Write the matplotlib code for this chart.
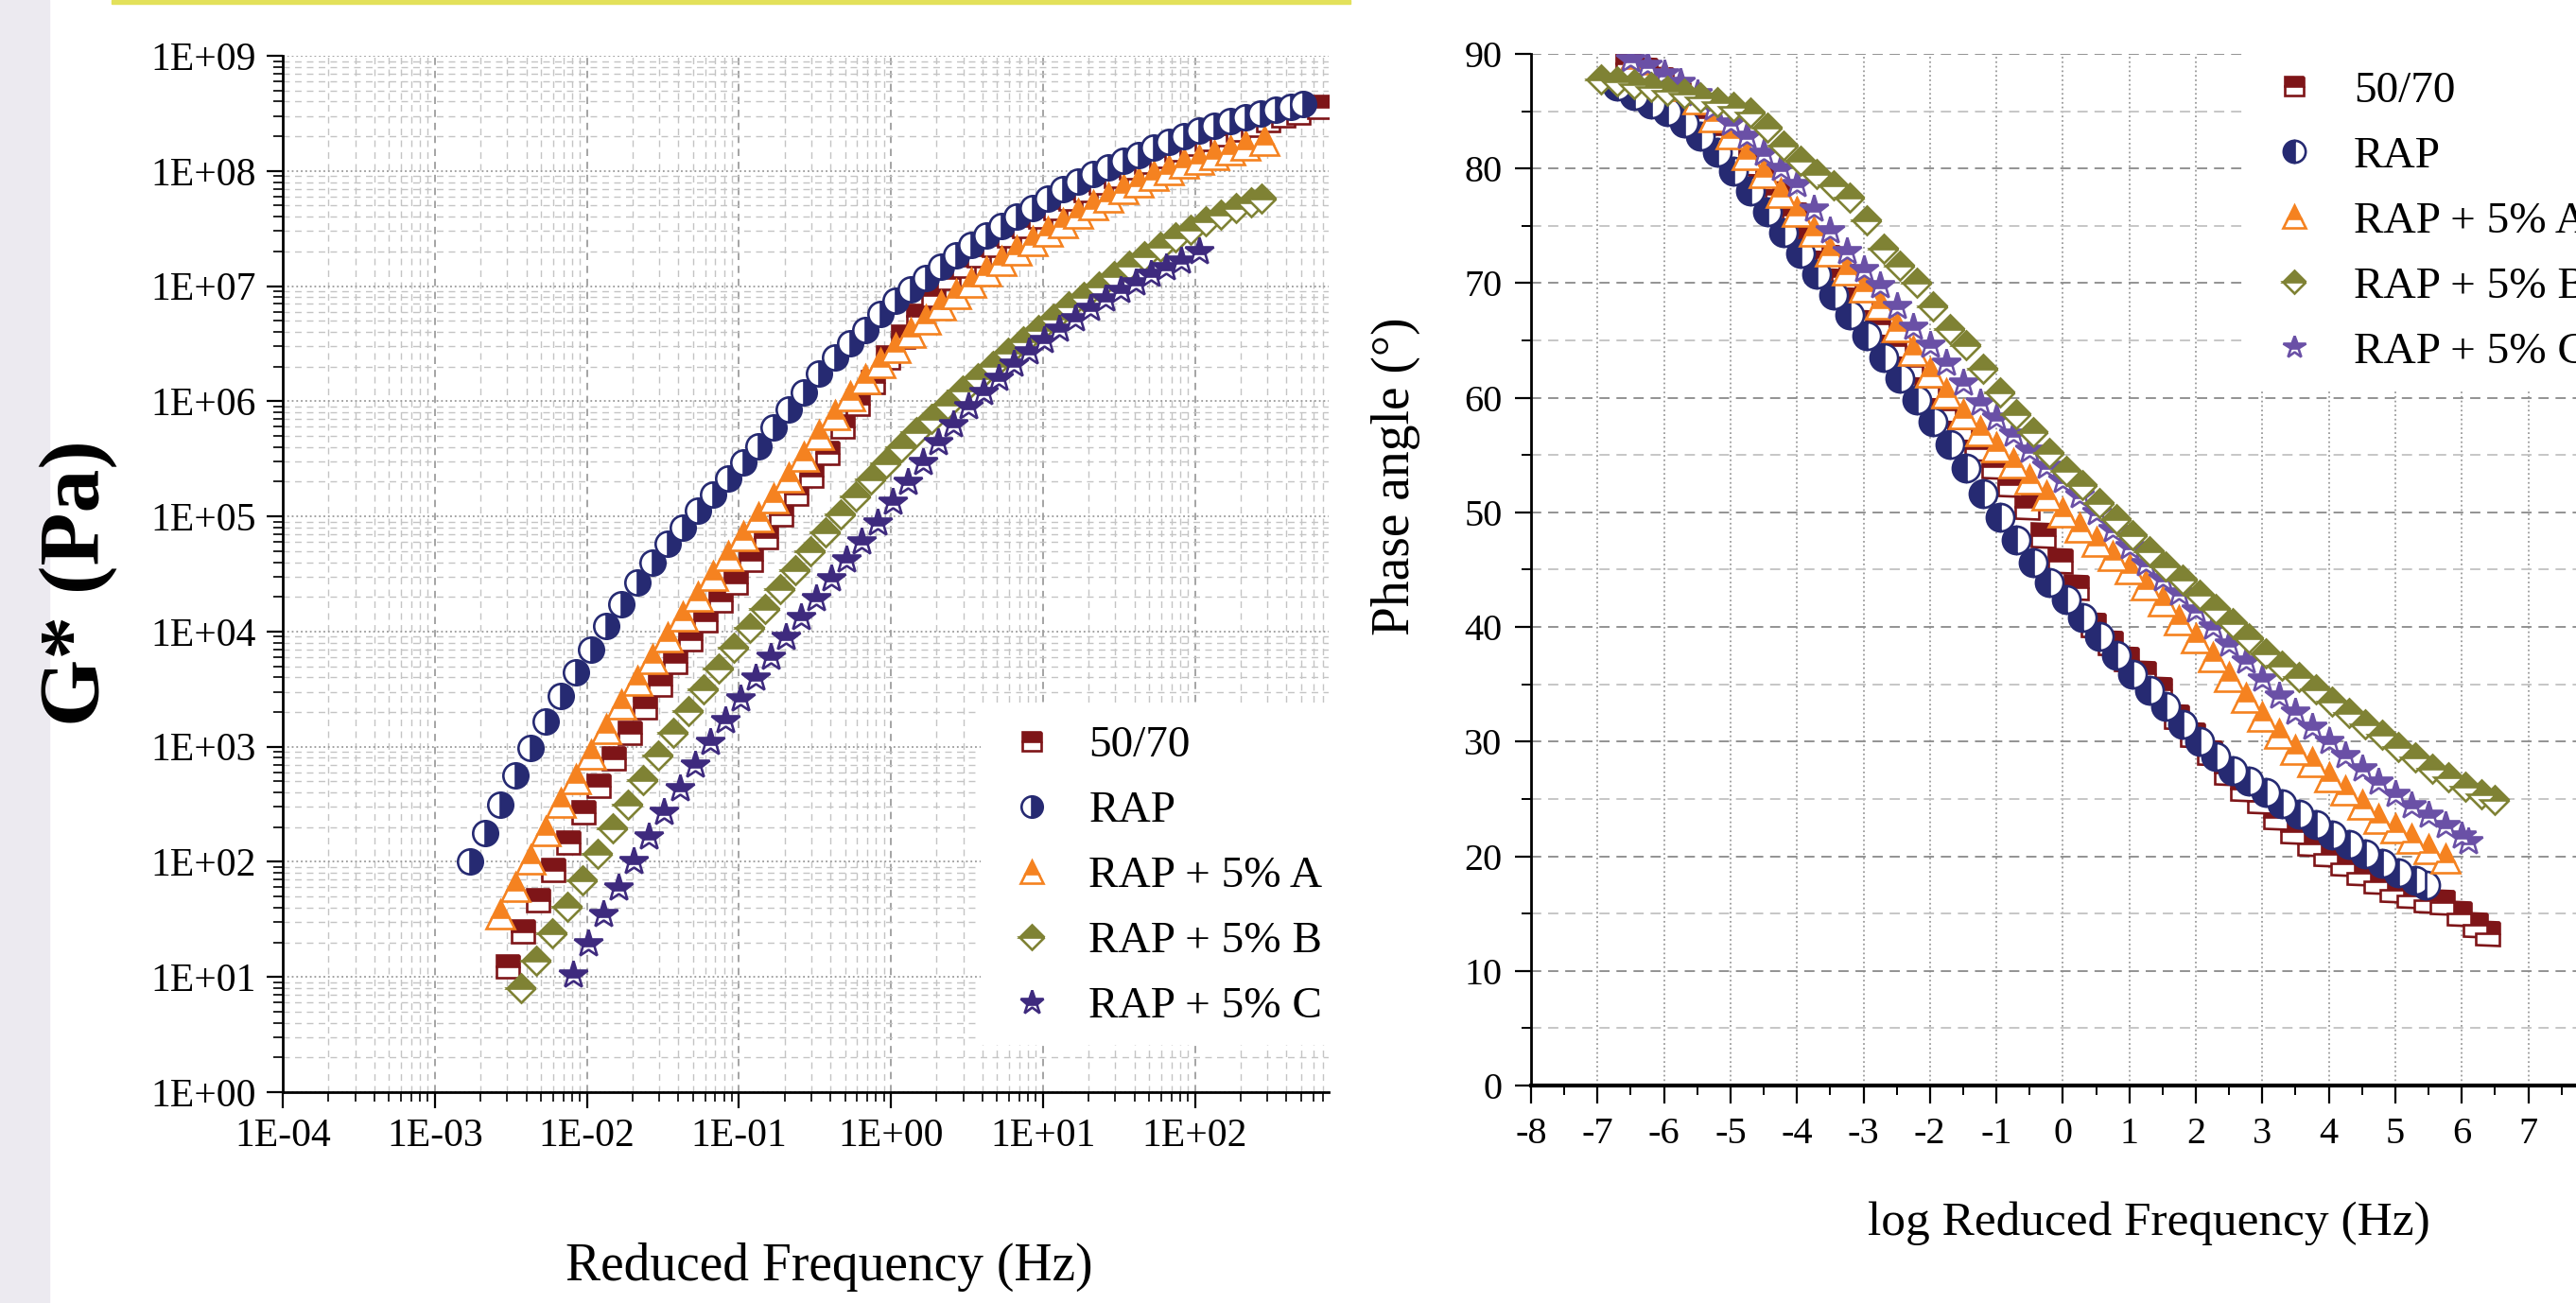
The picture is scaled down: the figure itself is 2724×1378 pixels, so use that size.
import numpy as np
import matplotlib
matplotlib.use('Agg')
import matplotlib.pyplot as plt
from matplotlib.patches import Rectangle
from matplotlib.ticker import LogLocator, FuncFormatter, NullFormatter, MultipleLocator, FixedLocator

plt.rcParams['font.family'] = ['Liberation Serif', 'DejaVu Serif']
plt.rcParams['axes.unicode_minus'] = False

# ---------------- data: left panel (log10 of reduced frequency, log10 of G*) ----------------
g5070_logf = [-2.52,-2.42,-2.32,-2.22,-2.12,-2.02,-1.92,-1.82,-1.72,-1.62,-1.52,-1.42,-1.32,-1.22,-1.12,-1.02,
              -0.92,-0.82,-0.72,-0.62,-0.52,-0.42,-0.32,-0.22,-0.12,-0.02,0.08,0.18,0.28,0.38,0.48,0.58,0.68,
              0.78,0.88,0.98,1.08,1.18,1.28,1.38,1.48,1.58,1.68,1.78,1.88,1.98,2.08,2.18,2.28,2.38,2.48,2.58,2.68,2.82]
g5070_logG = [1.09,1.40,1.67,1.93,2.17,2.43,2.66,2.90,3.12,3.34,3.54,3.74,3.93,4.10,4.27,4.43,4.62,4.82,5.02,5.20,
              5.35,5.55,5.78,5.98,6.17,6.38,6.56,6.74,6.92,7.07,7.18,7.27,7.36,7.44,7.52,7.60,7.68,7.76,7.83,7.90,
              7.96,8.03,8.08,8.13,8.19,8.24,8.28,8.32,8.36,8.40,8.44,8.48,8.51,8.56]

grap_logf = [-2.77,-2.67,-2.57,-2.47,-2.37,-2.27,-2.17,-2.07,-1.97,-1.87,-1.77,-1.67,-1.57,-1.47,-1.37,-1.27,-1.17,
             -1.07,-0.97,-0.87,-0.77,-0.67,-0.57,-0.47,-0.37,-0.27,-0.17,-0.07,0.03,0.13,0.23,0.33,0.43,0.53,0.63,
             0.73,0.83,0.93,1.03,1.13,1.23,1.33,1.43,1.53,1.63,1.73,1.83,1.93,2.03,2.13,2.23,2.33,2.43,2.53,2.63,2.71]
grap_logG = [2.00,2.25,2.50,2.75,2.99,3.22,3.44,3.65,3.84,4.05,4.24,4.43,4.60,4.76,4.90,5.05,5.19,5.33,5.47,5.61,
             5.77,5.93,6.08,6.24,6.38,6.50,6.62,6.76,6.87,6.97,7.07,7.17,7.27,7.36,7.44,7.52,7.60,7.68,7.76,7.84,
             7.91,7.97,8.03,8.09,8.14,8.20,8.25,8.30,8.35,8.39,8.43,8.47,8.50,8.53,8.56,8.58]

gA_logf = [-2.57,-2.47,-2.37,-2.27,-2.17,-2.07,-1.97,-1.87,-1.77,-1.67,-1.57,-1.47,-1.37,-1.27,-1.17,-1.07,-0.97,
           -0.87,-0.77,-0.67,-0.57,-0.47,-0.37,-0.27,-0.17,-0.07,0.03,0.13,0.23,0.33,0.43,0.53,0.63,0.73,0.83,0.93,
           1.03,1.13,1.23,1.33,1.43,1.53,1.63,1.73,1.83,1.93,2.03,2.13,2.23,2.33,2.46]
gA_logG = [1.54,1.78,2.02,2.27,2.51,2.72,2.93,3.15,3.37,3.57,3.76,3.95,4.13,4.30,4.48,4.66,4.83,4.99,5.16,5.34,
           5.52,5.71,5.88,6.04,6.19,6.33,6.46,6.59,6.71,6.83,6.93,7.03,7.13,7.22,7.31,7.39,7.47,7.55,7.63,7.70,
           7.77,7.84,7.90,7.96,8.01,8.06,8.10,8.14,8.18,8.22,8.26]

gB_logf = [-2.43,-2.33,-2.23,-2.13,-2.03,-1.93,-1.83,-1.73,-1.63,-1.53,-1.43,-1.33,-1.23,-1.13,-1.03,-0.93,-0.83,
           -0.73,-0.63,-0.53,-0.43,-0.33,-0.23,-0.13,-0.03,0.07,0.17,0.27,0.37,0.47,0.57,0.67,0.77,0.87,0.97,1.07,
           1.17,1.27,1.37,1.47,1.57,1.67,1.77,1.87,1.97,2.07,2.17,2.27,2.37,2.44]
gB_logG = [0.90,1.14,1.38,1.61,1.84,2.07,2.29,2.50,2.71,2.92,3.12,3.31,3.50,3.68,3.86,4.03,4.20,4.37,4.53,4.70,
           4.86,5.02,5.17,5.32,5.46,5.60,5.73,5.85,5.97,6.09,6.20,6.31,6.42,6.52,6.62,6.72,6.82,6.91,7.00,7.09,
           7.18,7.26,7.34,7.42,7.49,7.56,7.62,7.68,7.73,7.76]

gC_logf = [-2.09,-1.99,-1.89,-1.79,-1.69,-1.59,-1.49,-1.39,-1.29,-1.19,-1.09,-0.99,-0.89,-0.79,-0.69,-0.59,-0.49,
           -0.39,-0.29,-0.19,-0.09,0.01,0.11,0.21,0.31,0.41,0.51,0.61,0.71,0.81,0.91,1.01,1.11,1.21,1.31,1.41,1.51,
           1.61,1.71,1.81,1.91,2.03]
gC_logG = [1.02,1.29,1.54,1.77,2.00,2.22,2.43,2.64,2.84,3.04,3.23,3.42,3.60,3.78,3.95,4.12,4.29,4.46,4.62,4.78,
           4.94,5.12,5.30,5.47,5.64,5.80,5.95,6.08,6.20,6.32,6.43,6.53,6.63,6.72,6.81,6.89,6.96,7.03,7.10,7.16,
           7.22,7.30]

# ---------------- data: right panel (log reduced frequency, phase angle) ----------------
p5070_x = [-6.55,-6.3,-6.05,-5.8,-5.55,-5.3,-5.05,-4.8,-4.55,-4.3,-4.05,-3.8,-3.55,-3.3,-3.05,-2.8,-2.55,-2.3,-2.05,
           -1.8,-1.55,-1.3,-1.05,-0.8,-0.55,-0.3,-0.05,0.2,0.45,0.7,0.95,1.2,1.45,1.7,1.95,2.2,2.45,2.7,2.95,3.2,
           3.45,3.7,3.95,4.2,4.45,4.7,4.95,5.2,5.45,5.7,5.95,6.2,6.38]
p5070_y = [89.2,88.6,87.8,86.5,84.5,83.0,81.8,80.5,79.2,77.8,76.0,73.8,72.3,70.6,68.6,66.5,64.6,62.8,61.0,59.0,
           57.3,55.6,54.0,52.5,50.5,48.0,45.8,43.5,40.2,38.6,37.2,36.0,34.6,32.2,30.6,29.0,27.3,25.9,24.8,23.4,
           22.2,21.1,20.2,19.4,18.6,17.8,17.1,16.6,16.2,16.0,15.0,14.0,13.3]

prap_x = [-6.7,-6.45,-6.2,-5.95,-5.7,-5.45,-5.2,-4.95,-4.7,-4.45,-4.2,-3.95,-3.7,-3.45,-3.2,-2.95,-2.7,-2.45,-2.2,
          -1.95,-1.7,-1.45,-1.2,-0.95,-0.7,-0.45,-0.2,0.05,0.3,0.55,0.8,1.05,1.3,1.55,1.8,2.05,2.3,2.55,2.8,3.05,
          3.3,3.55,3.8,4.05,4.3,4.55,4.8,5.05,5.3,5.45]
prap_y = [87.2,86.4,85.6,85.0,84.0,82.8,81.4,79.8,78.0,76.2,74.4,72.6,70.8,69.0,67.2,65.4,63.5,61.7,59.8,57.9,
          55.9,53.9,51.6,49.6,47.6,45.6,43.9,42.4,40.8,39.2,37.5,35.9,34.5,33.1,31.5,30.0,28.7,27.5,26.6,25.6,
          24.6,23.7,22.8,21.9,21.0,20.2,19.4,18.6,17.9,17.5]

pA_x = [-6.5,-6.25,-6.0,-5.75,-5.5,-5.25,-5.0,-4.75,-4.5,-4.25,-4.0,-3.75,-3.5,-3.25,-3.0,-2.75,-2.5,-2.25,-2.0,
        -1.75,-1.5,-1.25,-1.0,-0.75,-0.5,-0.25,0.0,0.25,0.5,0.75,1.0,1.25,1.5,1.75,2.0,2.25,2.5,2.75,3.0,3.25,
        3.5,3.75,4.0,4.25,4.5,4.75,5.0,5.25,5.5,5.76]
pA_y = [89.0,88.5,88.0,87.2,86.0,84.5,83.0,81.2,79.6,77.9,76.2,74.5,72.8,71.1,69.6,68.1,66.2,64.1,62.2,60.4,
        58.6,57.1,55.7,54.3,52.9,51.5,50.0,48.7,47.4,46.2,45.0,43.6,42.2,40.6,39.0,37.4,35.6,33.8,32.2,30.7,
        29.3,28.2,26.9,25.7,24.5,23.3,22.4,21.5,20.6,19.8]

pB_x = [-6.95,-6.7,-6.45,-6.2,-5.95,-5.7,-5.45,-5.2,-4.95,-4.7,-4.45,-4.2,-3.95,-3.7,-3.45,-3.2,-2.95,-2.7,-2.45,
        -2.2,-1.95,-1.7,-1.45,-1.2,-0.95,-0.7,-0.45,-0.2,0.05,0.3,0.55,0.8,1.05,1.3,1.55,1.8,2.05,2.3,2.55,2.8,
        3.05,3.3,3.55,3.8,4.05,4.3,4.55,4.8,5.05,5.3,5.55,5.8,6.05,6.3,6.5]
pB_y = [87.8,87.6,87.4,87.1,86.8,86.5,86.2,85.8,85.4,84.9,83.6,82.0,80.7,79.5,78.5,77.5,75.5,73.0,71.5,70.0,
        68.0,66.0,64.6,62.5,60.5,58.6,57.0,55.2,53.6,52.4,50.8,49.4,48.0,46.6,45.3,44.1,42.8,41.6,40.3,39.0,
        37.7,36.6,35.6,34.6,33.5,32.5,31.5,30.6,29.5,28.6,27.6,26.9,26.1,25.4,24.9]

pC_x = [-6.5,-6.25,-6.0,-5.75,-5.5,-5.25,-5.0,-4.75,-4.5,-4.25,-4.0,-3.75,-3.5,-3.25,-3.0,-2.75,-2.5,-2.25,-2.0,
        -1.75,-1.5,-1.25,-1.0,-0.75,-0.5,-0.25,0.0,0.25,0.5,0.75,1.0,1.25,1.5,1.75,2.0,2.25,2.5,2.75,3.0,3.25,
        3.5,3.75,4.0,4.25,4.5,4.75,5.0,5.25,5.5,5.75,6.0,6.1]
pC_y = [89.5,89.0,88.3,87.5,86.5,85.3,84.0,82.8,81.3,80.0,78.6,76.5,74.6,72.8,71.2,69.8,68.0,66.2,64.6,63.0,
        61.3,59.6,58.2,56.8,55.4,54.0,52.8,51.5,50.0,48.5,47.0,45.5,44.2,43.0,41.5,40.0,38.5,37.0,35.5,34.0,
        32.6,31.3,30.0,28.8,27.6,26.5,25.4,24.4,23.6,22.7,21.8,21.3]

labels = ['50/70', 'RAP', 'RAP + 5% A', 'RAP + 5% B', 'RAP + 5% C']
left_xticks = [1e-4, 1e-3, 1e-2, 1e-1, 1e0, 1e1, 1e2]
right_xticks = list(range(-8, 8))
right_yticks = list(range(0, 91, 10))

# ---------------- styles ----------------
c_red = '#7E1518'
c_navy = '#262A72'
c_orange = '#F58220'
c_olive = '#7F8234'
c_purple_l = '#3E2A7E'
c_purple_r = '#6A50A6'

W, H = 2724, 1378
fig = plt.figure(figsize=(W / 100, H / 100), dpi=100)
fig.patch.set_facecolor('white')
fig.patches.append(Rectangle((0, 0), 52 / W, 1, transform=fig.transFigure, color='#ECEAF0', zorder=0))
fig.patches.append(Rectangle((118 / W, 1 - 4 / H), (1428 - 118) / W, 4 / H, transform=fig.transFigure,
                             color='#E3E15A', zorder=0))


def pts(ax, x, y, marker, color, fill, ms, z, mew=1.9):
    return ax.plot(x, y, linestyle='none', marker=marker, markersize=ms, markerfacecolor=color,
                   markerfacecoloralt='white', markeredgecolor=color, fillstyle=fill,
                   markeredgewidth=mew, zorder=z)[0]


# ---------------- left panel ----------------
ax1 = fig.add_axes([299 / W, 1 - 1155 / H, 1106 / W, 1096 / H])
ax1.set_xscale('log')
ax1.set_yscale('log')
ax1.set_xlim(1e-4, 10 ** 2.88)
ax1.set_ylim(1, 1e9)

h_red = pts(ax1, 10 ** np.array(g5070_logf), 10 ** np.array(g5070_logG), 's', c_red, 'top', 17, 3)
h_or = pts(ax1, 10 ** np.array(gA_logf), 10 ** np.array(gA_logG), '^', c_orange, 'top', 21, 4)
h_ol = pts(ax1, 10 ** np.array(gB_logf), 10 ** np.array(gB_logG), 'D', c_olive, 'top', 15, 5)
h_pu = pts(ax1, 10 ** np.array(gC_logf), 10 ** np.array(gC_logG), '*', c_purple_l, 'top', 22, 6)
h_nv = pts(ax1, 10 ** np.array(grap_logf), 10 ** np.array(grap_logG), 'o', c_navy, 'right', 19, 7)

ax1.xaxis.set_major_locator(FixedLocator(left_xticks))
ax1.xaxis.set_minor_locator(LogLocator(base=10, subs=np.arange(2, 10), numticks=50))
ax1.yaxis.set_major_locator(LogLocator(base=10, numticks=20))
ax1.yaxis.set_minor_locator(LogLocator(base=10, subs=np.arange(2, 10), numticks=100))
fmt = FuncFormatter(lambda v, p: '1E%+03d' % int(round(np.log10(v))))
ax1.xaxis.set_major_formatter(fmt)
ax1.yaxis.set_major_formatter(fmt)
ax1.xaxis.set_minor_formatter(NullFormatter())
ax1.yaxis.set_minor_formatter(NullFormatter())

ax1.xaxis.grid(True, which='major', linestyle=(0, (5, 4)), color='#8c8c8c', lw=1.1, zorder=0)
ax1.yaxis.grid(True, which='major', linestyle=':', color='#9a9a9a', lw=1.3, zorder=0)
ax1.grid(True, which='minor', linestyle=(0, (5, 4)), color='#c4c4c4', lw=1.0, zorder=0)
ax1.set_axisbelow(True)

ax1.tick_params(which='major', direction='out', length=12, width=1.6, labelsize=30, pad=8, colors='black')
ax1.tick_params(which='minor', direction='out', length=7, width=1.2)
for s in ['top', 'right']:
    ax1.spines[s].set_visible(False)
for s in ['left', 'bottom']:
    ax1.spines[s].set_linewidth(2.0)

leg1 = ax1.legend([h_red, h_nv, h_or, h_ol, h_pu], labels, loc='upper left', bbox_to_anchor=(0.667, 0.371),
                  borderaxespad=0, frameon=True, fancybox=False, edgecolor='none', facecolor='white',
                  framealpha=1, fontsize=34, handlelength=1.48, handletextpad=0.55, labelspacing=0.55,
                  borderpad=0.4, markerscale=0.85)
leg1.set_zorder(20)

# ---------------- right panel ----------------
unit_px = 70.3
ax2 = fig.add_axes([1619 / W, 1 - 1148 / H, 16.5 * unit_px / W, 1091 / H])
ax2.set_xlim(-8, 8.5)
ax2.set_ylim(0, 90)

r_red = pts(ax2, p5070_x, p5070_y, 's', c_red, 'top', 18, 3)
r_nv = pts(ax2, prap_x, prap_y, 'o', c_navy, 'left', 21, 4)
r_or = pts(ax2, pA_x, pA_y, '^', c_orange, 'top', 21, 5)
r_pu = pts(ax2, pC_x, pC_y, '*', c_purple_r, 'top', 22, 6)
r_ol = pts(ax2, pB_x, pB_y, 'D', c_olive, 'top', 15, 7)

ax2.xaxis.set_major_locator(FixedLocator(right_xticks))
ax2.xaxis.set_minor_locator(MultipleLocator(0.5))
ax2.yaxis.set_major_locator(FixedLocator(right_yticks))
ax2.yaxis.set_minor_locator(MultipleLocator(5))
ax2.xaxis.grid(True, which='major', linestyle=':', color='#9a9a9a', lw=1.3)
ax2.yaxis.grid(True, which='major', linestyle=(0, (6, 4)), color='#8a8a8a', lw=1.3)
ax2.yaxis.grid(True, which='minor', linestyle=(0, (6, 4)), color='#c2c2c2', lw=1.3)
ax2.set_axisbelow(True)
ax2.tick_params(which='major', direction='out', length=14, width=1.6, labelsize=29, pad=10)
ax2.tick_params(axis='y', which='major', length=12)
ax2.tick_params(which='minor', direction='out', length=7, width=1.4)
for s in ['top', 'right']:
    ax2.spines[s].set_visible(False)
ax2.spines['left'].set_linewidth(2.0)
ax2.spines['bottom'].set_linewidth(3.0)

leg2 = ax2.legend([r_red, r_nv, r_or, r_ol, r_pu], labels, loc='upper left',
                  bbox_to_anchor=(753 / (16.5 * unit_px), 1.001), borderaxespad=0, frameon=True,
                  fancybox=False, edgecolor='none', facecolor='white', framealpha=1, fontsize=34,
                  handlelength=1.48, handletextpad=0.6, labelspacing=0.55, borderpad=0.4, markerscale=0.8)
leg2.set_zorder(20)

# ---------------- axis titles ----------------
fig.text(83 / W, 1 - 617 / H, 'G* (Pa)', rotation=90, ha='center', va='center', fontsize=66, fontweight='bold')
fig.text(877 / W, 1 - 1340 / H, 'Reduced Frequency (Hz)', ha='center', va='center', fontsize=40)
fig.text(1476 / W, 1 - 504 / H, 'Phase angle (°)', rotation=90, ha='center', va='center', fontsize=40)
fig.text(2272 / W, 1 - 1294 / H, 'log Reduced Frequency (Hz)', ha='center', va='center', fontsize=37)

fig.savefig('out.png', dpi=100)
